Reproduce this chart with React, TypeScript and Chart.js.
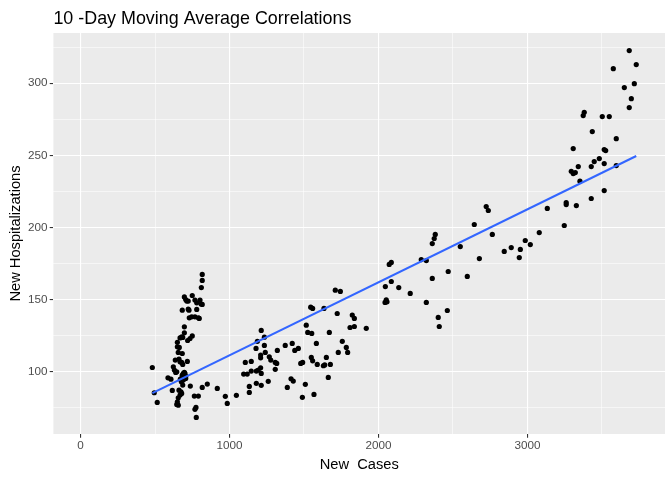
import { useEffect, useRef } from "react";
import { Chart, registerables } from "chart.js";
Chart.register(...registerables);

const chartTitle = "10 -Day Moving Average Correlations";
const xAxisTitle = "New  Cases";
const yAxisTitle = "New Hospitalizations";

const newCases = [
  817, 817, 811, 697, 706, 713, 723, 750, 768, 780, 802, 809, 817, 683, 723, 728, 780, 730, 746, 768,
  791, 797, 697, 697, 668, 679, 686, 719, 735, 750, 650, 650, 663, 656, 683, 636, 661, 668, 686, 679,
  717, 482, 623, 630, 639, 646, 690, 701, 683, 706, 587, 607, 670, 677, 686, 737, 851, 817, 495, 515,
  616, 661, 679, 668, 656, 650, 656, 646, 764, 791, 775, 768, 777, 683, 697, 706, 690, 674,
  918, 972, 985, 1046, 1133, 1133, 1180, 1213, 1260, 1095, 1119, 1146, 1180, 1193, 1209, 1213, 1106, 1146,
  1213, 1234, 1187, 1178, 1234, 1240, 1209, 1209, 1267, 1277, 1307, 1317, 1307, 1321, 1374, 1421, 1438, 1462,
  1388, 1413, 1428, 1489, 1478, 1491, 1509, 1549, 1558, 1545, 1558, 1515, 1525, 1552, 1567,
  2046, 2086, 2136, 2044, 2052, 2057, 1710, 1744, 1634, 1723, 1824, 1838, 1809, 1838, 1918, 1670, 1583, 1757,
  1784, 1793, 1730, 1650, 1589, 1630, 1639, 1677, 1663,
  2643, 2381, 2374, 2361, 2549, 2072, 2086, 2287, 2321, 2677, 2468, 2361, 2596, 2213, 2321, 2401, 2408, 2462,
  3341, 3294, 3307, 3321, 3352, 2723, 2737, 2764, 3133, 3260, 3260, 3328, 3247, 3079, 2985, 3019, 2844, 2891,
  2952, 2945,
  3683, 3730, 3576, 3717, 3650, 3697, 3683, 3381, 3374, 3502, 3549, 3435, 3596, 3307, 3515, 3525, 3482, 3448,
  3428, 3515, 3596, 3515, 3428,
];

const newHospitalizations = [
  167.5, 163.3, 158.4, 151.9, 150.1, 149.0, 149.0, 152.9, 149.7, 147.8, 149.7, 147.0, 146.7, 142.7, 143.4, 142.7, 143.2, 137.4, 138.1, 138.1,
  137.4, 137.0, 131.2, 127.0, 123.5, 124.2, 123.8, 121.7, 123.1, 124.9, 120.4, 117.3, 116.9, 113.4, 112.7, 108.1, 108.8, 106.9, 105.1, 106.5,
  107.2, 103.0, 103.5, 101.2, 99.6, 100.0, 98.9, 98.9, 96.5, 97.0, 95.8, 94.9, 94.9, 93.1, 90.8, 90.1, 91.5, 89.2, 85.5, 78.8,
  87.1, 87.3, 85.0, 83.9, 82.0, 79.2, 76.9, 77.4, 83.2, 83.2, 75.3, 74.0, 68.4, 97.7, 99.6, 95.4, 94.3, 86.1,
  88.5, 83.0, 78.1, 83.7, 89.9, 85.7, 92.0, 90.6, 93.4, 98.4, 98.4, 100.5, 100.5, 101.2, 102.8, 98.9, 106.5, 107.2,
  128.7, 124.0, 121.1, 116.2, 118.3, 113.4, 111.6, 109.7, 110.4, 108.1, 106.5, 105.8, 101.7, 114.8, 118.3, 119.7, 114.8, 116.2,
  89.2, 95.2, 93.6, 82.3, 105.8, 106.5, 91.3, 110.0, 107.6, 144.8, 143.9, 132.3, 127.3, 126.6, 84.3,
  159.1, 162.6, 158.4, 148.1, 149.9, 148.5, 156.6, 155.7, 143.9, 140.4, 139.3, 137.0, 130.7, 131.4, 130.1, 127.3, 119.7, 121.1,
  116.9, 113.4, 113.4, 110.0, 105.1, 104.2, 104.8, 105.1, 96.1,
  202.1, 195.2, 192.4, 188.9, 186.8, 174.4, 175.8, 177.8, 177.1, 178.5, 169.5, 164.7, 166.1, 154.3, 148.1, 137.7, 131.4, 142.5,
  242.2, 239.0, 237.4, 238.1, 232.1, 214.5, 211.8, 195.2, 213.2, 217.3, 215.9, 215.2, 201.4, 196.5, 191.0, 188.2, 183.4, 186.1,
  184.8, 179.2,
  322.6, 312.9, 310.1, 299.7, 297.0, 289.3, 283.1, 279.8, 277.6, 276.9, 276.9, 266.5, 261.6, 254.7, 254.0, 253.3, 247.8, 245.7,
  242.2, 244.3, 242.9, 225.6, 220.1,
];

const trendCases = [482, 3730];
const trendHosp = [85.2, 249.6];

const xTickValues = [0, 500, 1000, 1500, 2000, 2500, 3000, 3500];
const xMajorTicks = [0, 1000, 2000, 3000];
const yTickValues = [75, 100, 125, 150, 175, 200, 225, 250, 275, 300, 325];
const yMajorTicks = [100, 150, 200, 250, 300];

const xLimits = [-182, 3923];
const yLimits = [56.9, 334.8];

const FONT = "'Liberation Sans', Arial, sans-serif";

export default function App() {
  const ref = useRef<HTMLCanvasElement | null>(null);

  useEffect(() => {
    document.body.style.margin = "0";
    const canvas = ref.current;
    if (!canvas) return;

    const panelBg = {
      id: "panelBg",
      beforeDraw(chart: any) {
        const { ctx, chartArea } = chart;
        ctx.save();
        ctx.fillStyle = "#EBEBEB";
        ctx.fillRect(chartArea.left, chartArea.top, chartArea.right - chartArea.left, chartArea.bottom - chartArea.top);
        ctx.restore();
      },
    };

    const titles = {
      id: "titles",
      afterDraw(chart: any) {
        const { ctx, chartArea } = chart;
        ctx.save();
        ctx.fillStyle = "#000000";
        ctx.font = `17.9px ${FONT}`;
        ctx.textAlign = "left";
        ctx.textBaseline = "alphabetic";
        ctx.fillText(chartTitle, chartArea.left, 23.5);
        ctx.font = `14.67px ${FONT}`;
        ctx.textAlign = "center";
        ctx.fillText(xAxisTitle, (chartArea.left + chartArea.right) / 2, 469);
        ctx.translate(20, (chartArea.top + chartArea.bottom) / 2);
        ctx.rotate(-Math.PI / 2);
        ctx.fillText(yAxisTitle, 0, 0);
        ctx.restore();
      },
    };

    const chart = new Chart(canvas, {
      type: "scatter",
      data: {
        datasets: [
          {
            label: "trend",
            data: trendCases.map((x, i) => ({ x, y: trendHosp[i] })),
            showLine: true,
            borderColor: "#3366FF",
            borderWidth: 2.1,
            pointRadius: 0,
            fill: false,
          },
          {
            label: "points",
            data: newCases.map((x, i) => ({ x, y: newHospitalizations[i] })),
            backgroundColor: "#000000",
            borderWidth: 0,
            pointRadius: 2.6,
          },
        ],
      },
      options: {
        animation: false,
        responsive: false,
        devicePixelRatio: 1,
        layout: { padding: { top: 33, left: 0, right: 7, bottom: 0 } },
        plugins: { legend: { display: false }, tooltip: { enabled: false }, title: { display: false } },
        scales: {
          x: {
            type: "linear",
            min: xLimits[0],
            max: xLimits[1],
            afterBuildTicks: (s: any) => {
              s.ticks = xTickValues.map((v) => ({ value: v }));
            },
            afterFit: (s: any) => {
              s.height = 46;
            },
            border: { display: false },
            grid: {
              color: "#FFFFFF",
              lineWidth: (c: any) => (xMajorTicks.includes(c.tick?.value) ? 1.1 : 0.55),
              tickColor: (c: any) => (xMajorTicks.includes(c.tick?.value) ? "#333333" : "rgba(0,0,0,0)"),
              tickLength: 3.7,
              tickWidth: 1.1,
            },
            ticks: {
              autoSkip: false,
              maxRotation: 0,
              padding: 2.2,
              color: "#4D4D4D",
              font: { family: FONT, size: 11.7, lineHeight: 1 },
              callback: (v: any) => (xMajorTicks.includes(Number(v)) ? String(v) : ""),
            },
          },
          y: {
            type: "linear",
            min: yLimits[0],
            max: yLimits[1],
            afterBuildTicks: (s: any) => {
              s.ticks = yTickValues.map((v) => ({ value: v }));
            },
            afterFit: (s: any) => {
              s.width = 53.4;
            },
            border: { display: false },
            grid: {
              color: "#FFFFFF",
              lineWidth: (c: any) => (yMajorTicks.includes(c.tick?.value) ? 1.1 : 0.55),
              tickColor: (c: any) => (yMajorTicks.includes(c.tick?.value) ? "#333333" : "rgba(0,0,0,0)"),
              tickLength: 3.7,
              tickWidth: 1.1,
            },
            ticks: {
              autoSkip: false,
              padding: 2.2,
              color: "#4D4D4D",
              font: { family: FONT, size: 11.7, lineHeight: 1 },
              callback: (v: any) => (yMajorTicks.includes(Number(v)) ? String(v) : ""),
            },
          },
        },
      },
      plugins: [panelBg, titles],
    } as any);

    return () => chart.destroy();
  }, []);

  return <canvas ref={ref} width={672} height={480} style={{ display: "block", width: 672, height: 480 }} />;
}
